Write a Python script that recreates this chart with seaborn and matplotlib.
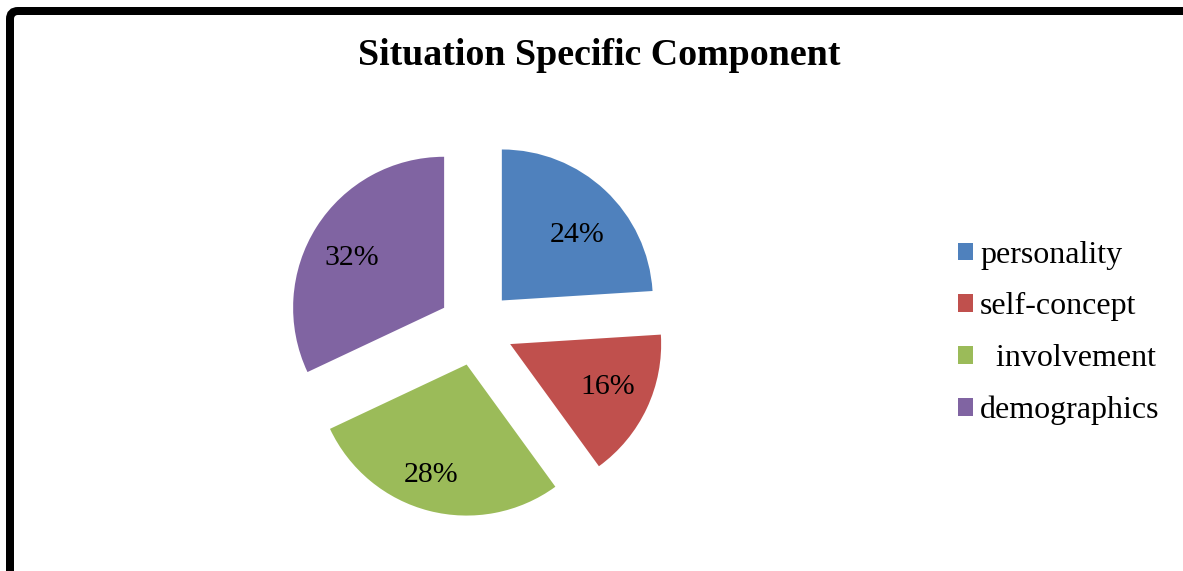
import numpy as np
import matplotlib
matplotlib.use("Agg")
import matplotlib.pyplot as plt
from matplotlib.patches import FancyBboxPatch, Patch
import seaborn as sns

# Shares of the situation-specific component
categories = ["personality", "self-concept", "  involvement", "demographics"]
shares = [24, 16, 28, 32]
colors = ["#4F81BD", "#C0504D", "#9BBB59", "#8064A2"]
# placement of each percentage label inside its slice:
# radial distance (fraction of radius) and clockwise turn from the bisector
label_dist = [0.662, 0.709, 0.770, 0.692]
label_turn = [5.5, -1.3, 3.2, -4.2]

sns.set_theme(style="white")
plt.rcParams["font.family"] = ["Liberation Serif", "DejaVu Serif"]
plt.rcParams["text.color"] = "black"

W, H = 1183, 571
fig = plt.figure(figsize=(W / 100, H / 100), dpi=100)
fig.patch.set_facecolor("white")

# axes in pixel units so the pie geometry is easy to reason about
ax = fig.add_axes([0, 0, 1, 1])
palette = sns.color_palette(colors)
cx, cy, R = 476, H - 328, 151
gap = 0.25 * R  # every slice pulled out by a quarter of the radius
wedges, texts, autotexts = ax.pie(
    shares, colors=palette, startangle=90, counterclock=False,
    explode=[gap] * len(shares), radius=R, center=(cx, cy),
    autopct=lambda p: f"{p:.0f}%", pctdistance=0.6,
    textprops=dict(fontsize=21.5, color="black"),
    wedgeprops=dict(linewidth=0),
)
ax.set_xlim(0, W)
ax.set_ylim(0, H)
ax.set_aspect("auto")
ax.axis("off")

for w, t, d, turn in zip(wedges, autotexts, label_dist, label_turn):
    mid = np.deg2rad((w.theta1 + w.theta2) / 2 - turn)
    x0, y0 = w.center
    t.set_position((x0 + d * w.r * np.cos(mid), y0 + d * w.r * np.sin(mid)))

fig.text(599 / W, 1 - 65 / H, "Situation Specific Component",
         ha="center", va="baseline", fontsize=27.3, fontweight="bold",
         color="black")

handles = [Patch(facecolor=c, edgecolor="none") for c in palette]
leg = ax.legend(handles, categories, loc="center left",
                bbox_to_anchor=(958 / W, 1 - 333 / H), frameon=False,
                fontsize=23, handlelength=0.47, handleheight=0.47,
                handletextpad=0.22, labelspacing=0.71, borderaxespad=0,
                borderpad=0)
for t in leg.get_texts():
    t.set_color("black")

# rounded outer frame (only top and left edges fall inside the canvas)
frame = FancyBboxPatch((10, -60), W + 60, H - 11 + 60,
                       boxstyle="round,pad=0,rounding_size=8",
                       transform=None, fill=False, edgecolor="black",
                       linewidth=8 * 72 / 100)
fig.patches.append(frame)

fig.savefig("out.png", dpi=100, facecolor="white")
